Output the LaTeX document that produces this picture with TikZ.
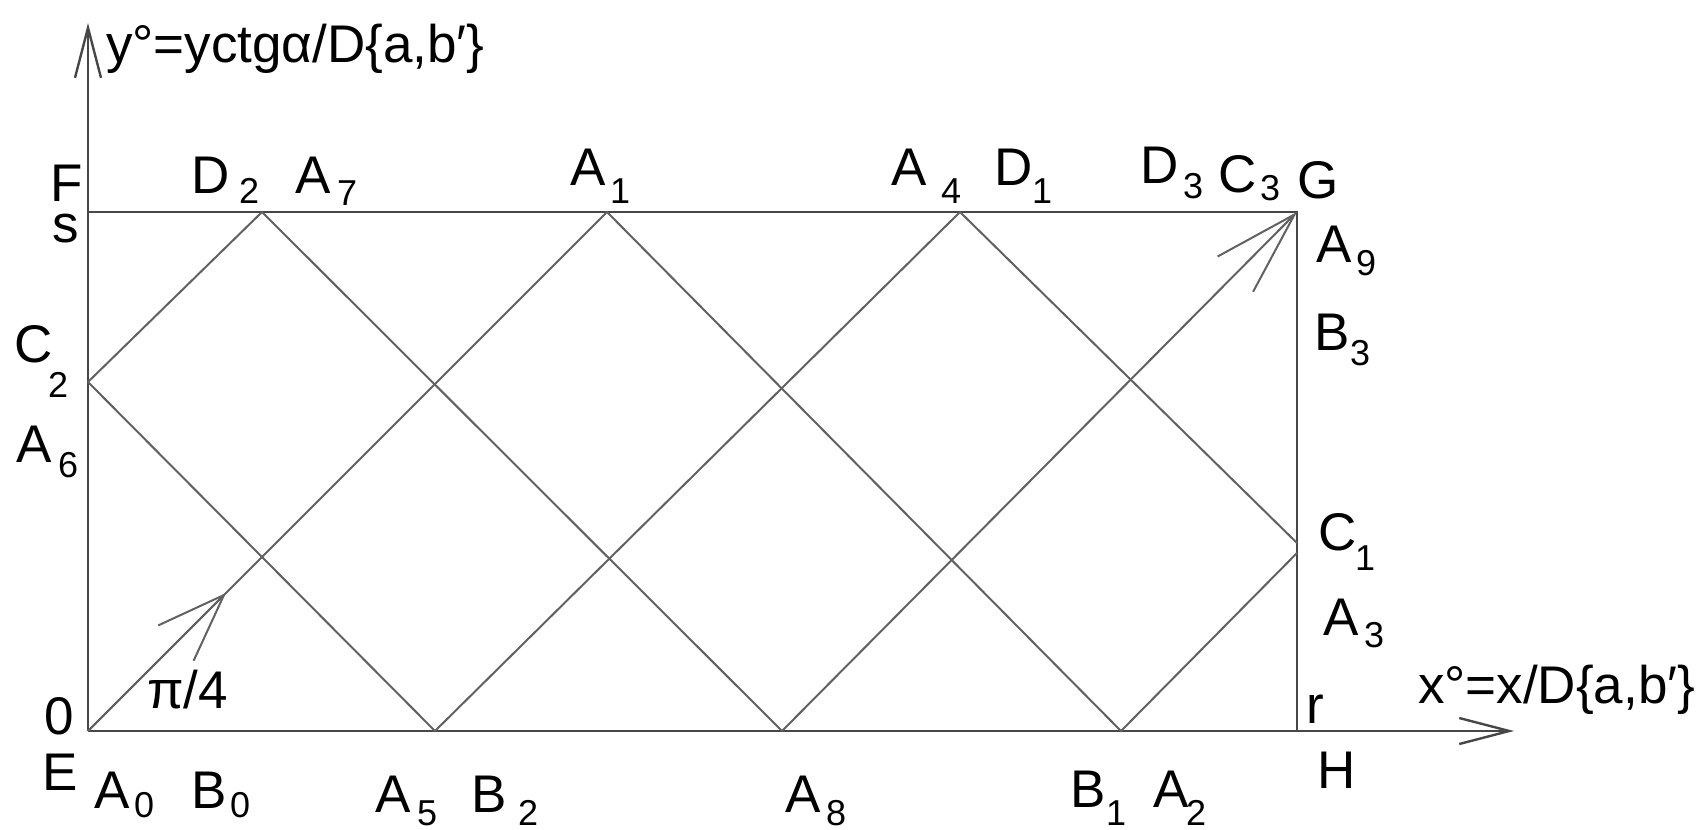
\documentclass[tikz,border=0pt]{standalone}
\usepackage{fontspec}
\setmainfont{Liberation Sans}
\usetikzlibrary{arrows.meta,calc}
\tikzset{
  lab/.style={inner sep=0pt,outer sep=0pt,anchor=base west,font=\fontsize{26.5pt}{30pt}\selectfont,text=black},
  sublab/.style={lab,font=\fontsize{18pt}{20pt}\selectfont},
  axisline/.style={draw=black!72,line width=1.2pt},
  ray/.style={draw=black!62,line width=1pt,line join=miter},
  axistip/.style={-{Straight Barb[length=25pt,width=13pt]}},
  endtip/.style={-{Straight Barb[length=42pt,width=25pt]}},
  midtip/.style={-{Straight Barb[length=34pt,width=25pt]}},
}
\newcommand\mlab[4]{\node[lab] (#1) at (#2,#3) {#4};}
\newcommand\slab[4]{\node[sublab] (#1) at (#2,#3) {#4};}
\begin{document}
\begin{tikzpicture}[x=0.5pt,y=-0.5pt]
\useasboundingbox (0,0) rectangle (1704,830);
% frame points
\coordinate (E) at (88,731);
\coordinate (F) at (88,212);
\coordinate (G) at (1297,212);
\coordinate (H) at (1297,731);
\coordinate (ytop) at (88,23);
\coordinate (xend) at (1514,731);
% reflection points
\coordinate (pA1) at (607,212);
\coordinate (pB1) at (1121,731);
\coordinate (pC1lo) at (1297,553);
\coordinate (pC1hi) at (1297,543);
\coordinate (pA4) at (960,212);
\coordinate (pA5) at (435,731);
\coordinate (pC2) at (88,382);
\coordinate (pD2) at (262,212);
\coordinate (pA8) at (782,731);
% axes and frame
\draw[axisline,axistip] (E) -- (ytop);
\draw[axisline,axistip] (E) -- (xend);
\draw[axisline] (F) -- (G) -- (H);
% zigzag path
\draw[ray] (E) -- (pA1) -- (pB1) -- (pC1lo);
\draw[ray] (pC1hi) -- (pA4) -- (pA5) -- (pC2) -- (pD2) -- (pA8);
\draw[ray,endtip] (pA8) -- (G);
\draw[ray,midtip] (E) -- ($(E)!0.266!(pA1)$);
% axis labels
\mlab{ylab}{106}{62}{y°=yctgα/D\{a,b\char"2032\}}
\mlab{xlab}{1418}{703}{x°=x/D\{a,b\char"2032\}}
\mlab{pilab}{147}{708}{π/4}
% corner labels
\mlab{lF}{50}{201}{F}
\mlab{ls}{52}{242}{s}
\mlab{lO}{44}{734}{0}
\mlab{lE}{42}{790}{E}
\mlab{lH}{1317}{788}{H}
\mlab{lr}{1306}{723}{r}
\mlab{lG}{1297}{198}{G}
% top labels
\mlab{lD2}{191}{193}{D}\slab{lD2s}{239}{203}{2}
\mlab{lA7}{295}{193}{A}\slab{lA7s}{337}{205}{7}
\mlab{lA1}{570}{185}{A}\slab{lA1s}{610}{203}{1}
\mlab{lA4}{891}{185}{A}\slab{lA4s}{941}{203}{4}
\mlab{lD1}{994}{185}{D}\slab{lD1s}{1032}{203}{1}
\mlab{lD3}{1140}{183}{D}\slab{lD3s}{1183}{198}{3}
\mlab{lC3}{1218}{192}{C}\slab{lC3s}{1260}{200}{3}
% right labels
\mlab{lA9}{1316}{262}{A}\slab{lA9s}{1356}{275}{9}
\mlab{lB3}{1314}{350}{B}\slab{lB3s}{1350}{365}{3}
\mlab{lC1}{1318}{550}{C}\slab{lC1s}{1355}{570}{1}
\mlab{lA3}{1323}{635}{A}\slab{lA3s}{1364}{647}{3}
% left labels
\mlab{lC2}{14}{362}{C}\slab{lC2s}{48}{397}{2}
\mlab{lA6}{17}{462}{A}\slab{lA6s}{58}{477}{6}
% bottom labels
\mlab{lA0}{94}{808}{A}\slab{lA0s}{134}{817}{0}
\mlab{lB0}{191}{808}{B}\slab{lB0s}{230}{817}{0}
\mlab{lA5}{375}{812}{A}\slab{lA5s}{417}{825}{5}
\mlab{lB2}{471}{812}{B}\slab{lB2s}{518}{825}{2}
\mlab{lA8}{785}{812}{A}\slab{lA8s}{826}{825}{8}
\mlab{lB1}{1070}{807}{B}\slab{lB1s}{1106}{825}{1}
\mlab{lA2}{1153}{807}{A}\slab{lA2s}{1186}{825}{2}
\end{tikzpicture}
\end{document}
